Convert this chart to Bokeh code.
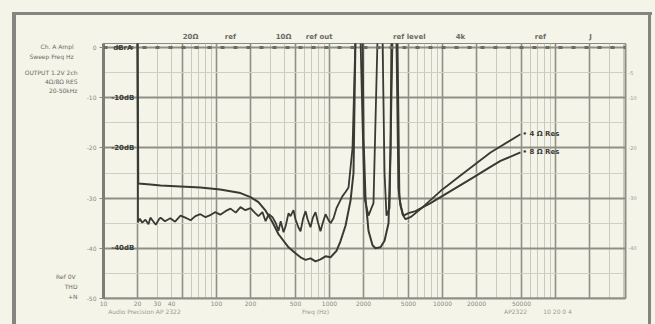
import numpy as np
from bokeh.plotting import figure
from bokeh.models import (FixedTicker, Range1d, LinearAxis, LogAxis, Label, Span,
                          CustomJSTickFormatter)
from bokeh.embed import file_html
from bokeh.resources import INLINE

# ---------------- data ----------------
freq_a = [20, 20.3, 26, 32, 48, 72, 108, 163, 200, 235, 272, 313, 354, 434, 500,
          554, 614, 679, 752, 832, 922, 1021, 1153, 1250, 1386, 1535, 1631,
          1698, 1960, 2000, 2083, 2213, 2403, 2554, 2828, 3069, 3329, 3467,
          3538, 3916, 4078, 4245, 4513, 5000, 5770, 7830, 11770, 17700, 26600,
          32600, 49000]
db_a = [2, -27.1, -27.3, -27.5, -27.7, -27.9, -28.3, -29.0, -29.8, -30.8, -32.5,
        -34.8, -37.2, -39.8, -41.0, -41.8, -42.3, -42.0, -42.6, -42.2, -41.6,
        -41.8, -40.5, -38.6, -35.5, -30.5, -25.0,
        2, 2, -18, -30, -36.5, -39.4, -40.0, -39.8, -38.5, -35.0, -20.0,
        2, 2, -28, -31.5, -33.5, -33.0, -32.6, -31.0, -28.6, -26.2, -23.8,
        -22.6, -20.9]

freq_b = [20, 20.2, 21, 22, 23.5, 25, 26, 27.5, 29, 31, 32, 35, 39, 43, 48, 53,
          59, 65, 72, 80, 88, 97, 108, 120, 133, 148, 163, 180, 200, 220, 235,
          255, 272, 290, 313, 335, 354, 370, 392, 410, 434, 452, 480, 500, 530,
          554, 585, 614, 640, 679, 710, 752, 790, 832, 870, 922, 970, 1021,
          1085, 1153, 1250, 1303, 1386, 1473, 1599,
          1698, 1880, 1960, 2040, 2213, 2450,
          2662, 2946, 3069, 3194, 3400,
          3610, 3996, 4161, 4424, 4705, 5210, 6385, 9600, 14430, 26600, 49000]
db_b = [2, -34.8, -34.1, -34.9, -34.3, -35.2, -33.9, -34.6, -35.3, -34.2, -33.9,
        -34.6, -34.0, -34.7, -33.5, -33.9, -34.4, -33.6, -33.2, -33.8, -33.4,
        -32.8, -33.3, -32.6, -32.1, -32.9, -31.8, -32.4, -32.0, -33.0, -33.6,
        -32.8, -34.6, -33.2, -33.8, -35.0, -36.5, -34.6, -36.8, -35.5, -33.0,
        -33.6, -32.4, -34.2, -35.8, -36.6, -34.0, -32.6, -34.2, -35.8, -34.0,
        -32.8, -34.8, -36.6, -35.0, -33.2, -34.2, -35.0, -34.0, -32.0, -30.4,
        -29.6, -28.8, -27.9, -20.0,
        2, 2, -15, -30, -33.5, -31.0,
        2, 2, -25, -33.5, -32.0,
        2, 2, -30, -33.2, -34.2, -33.8, -32.2, -28.6, -25.5, -20.9, -17.3]

series_names = ["4 \u03a9 Res", "8 \u03a9 Res"]

x_tick_freqs = [10, 20, 30, 40, 100, 200, 500, 1000, 2000, 5000, 10000, 20000, 50000]
x_tick_labels = ["10", "20", "30", "40", "100", "200", "500", "1000", "2000",
                 "5000", "10000", "20000", "50000"]
y_ticks = [0, -10, -20, -30, -40, -50]
y_tick_labels = ["0", "-10", "-20", "-30", "-40", "-50"]
r_ticks = [-5, -10, -20, -30, -40]
r_tick_labels = ["-5", "-10", "-20", "-30", "-40"]
db_marks = [0, -10, -20, -40]
db_mark_labels = ["dBrA", "-10dB", "-20dB", "-40dB"]

# header / footer / side notes of the sheet (anchor values on the chart's scales)
top_note_freqs = [59, 133, 392, 832, 5210, 14430, 73600, 204000]
top_note_texts = ["20\u03a9", "ref", "10\u03a9", "ref  out", "ref  level", "4k", "ref", "J"]
foot_note_freqs = [23.5, 752, 44300, 110600]
foot_note_texts = ["Audio Precision  AP 2322", "Freq (Hz)", "AP2322", "10  20  0  4"]
side_note_db = [0.2, -1.8, -5.0, -6.8, -8.6, -45.6, -47.6, -49.6]
side_note_texts = ["Ch. A   Ampl", "Sweep  Freq  Hz", "OUTPUT 1.2V 2ch",
                   "4\u03a9/8\u03a9 RES", "20-50kHz", "Ref  0V", "THD", "+N"]

# ---------------- styling / layout ----------------
BG = "#f5f4e8"
INK = "#3a3a35"
W, H = 655, 324
FL, FR, FT, FB = 103, 625, 43, 298
PX_PER_DEC = 113.0
PX_PER_DB = 5.02
x_lo = 10.0
x_hi = 10 ** (1 + (FR - FL) / PX_PER_DEC)
y_hi = (47 - FT) / PX_PER_DB
y_lo = -(FB - 47) / PX_PER_DB

p = figure(width=W, height=H, x_axis_type="log",
           x_range=Range1d(x_lo, x_hi), y_range=Range1d(y_lo, y_hi),
           output_backend="svg", toolbar_location=None,
           min_border_left=FL, min_border_right=W - FR,
           min_border_top=FT, min_border_bottom=H - FB,
           background_fill_color=BG, border_fill_color=BG, border_fill_alpha=0)
p.outline_line_color = "#8a8a82"
p.outline_line_width = 1
g = "linear-gradient(#85857f,#85857f)"
p.styles = {
    "background": (f"{g} 12px 12px / 4px 320px no-repeat, "
                   f"{g} 12px 12px / 640px 3px no-repeat, "
                   f"{g} 648px 12px / 3px 320px no-repeat, {BG}"),
}

# grids
major_v = []
minor_v = []
for dec in [10, 100, 1000, 10000, 100000]:
    for m in range(1, 10):
        f = dec * m
        if f > x_hi:
            continue
        (major_v if m in (1, 2, 5) else minor_v).append(f)
p.xgrid.ticker = FixedTicker(ticks=major_v, minor_ticks=minor_v)
p.xgrid.grid_line_color = "#8f8f87"
p.xgrid.grid_line_width = 1.6
p.xgrid.minor_grid_line_color = "#c9c9bd"
p.xgrid.minor_grid_line_width = 1

p.ygrid.ticker = FixedTicker(ticks=y_ticks, minor_ticks=[-5, -15, -25, -35, -45])
p.ygrid.grid_line_color = "#8f8f87"
p.ygrid.grid_line_width = 2
p.ygrid.minor_grid_line_color = "#cfcfc3"
p.ygrid.minor_grid_line_width = 1


def make_fmt(t, l, use_log):
    expr = "Math.abs(Math.log10(t[i]) - Math.log10(tick))" if use_log else "Math.abs(t[i] - tick)"
    return CustomJSTickFormatter(args=dict(t=t, l=l), code=f"""
let best = 0, d = 1e9;
for (let i = 0; i < t.length; i++) {{
  const e = {expr};
  if (e < d) {{ d = e; best = i; }}
}}
return l[best];
""")


def plain(ax, size, color, bold=False, standoff=3):
    ax.major_label_text_font_size = size
    ax.major_label_text_color = color
    ax.major_label_text_font = "DejaVu Sans"
    ax.major_label_text_font_style = "bold" if bold else "normal"
    ax.axis_line_color = None
    ax.major_tick_line_color = None
    ax.minor_tick_line_color = None
    ax.major_label_standoff = standoff
    ax.major_tick_out = 0
    ax.major_tick_in = 0


p.xaxis.ticker = FixedTicker(ticks=x_tick_freqs)
p.xaxis.formatter = make_fmt(x_tick_freqs, x_tick_labels, True)
plain(p.xaxis[0], "6px", "#8a8a82", standoff=2)
p.xaxis.axis_line_color = "#8f8f87"
p.xaxis.axis_line_width = 2

p.yaxis.ticker = FixedTicker(ticks=y_ticks)
p.yaxis.formatter = make_fmt(y_ticks, y_tick_labels, False)
plain(p.yaxis[0], "6px", "#8a8a82", standoff=3)
p.yaxis.axis_line_color = "#7d7d76"
p.yaxis.axis_line_width = 3
p.yaxis.major_tick_line_color = "#8a8a82"
p.yaxis.major_tick_out = 4

ra = LinearAxis(ticker=FixedTicker(ticks=r_ticks), formatter=make_fmt(r_ticks, r_tick_labels, False))
plain(ra, "5px", "#9a9a92")
ra.axis_line_color = "#8f8f87"
ra.axis_line_width = 2
p.add_layout(ra, "right")

# sheet header above the frame
top_ax = LogAxis(ticker=FixedTicker(ticks=top_note_freqs),
                 formatter=make_fmt(top_note_freqs, top_note_texts, True))
plain(top_ax, "7px", "#6a6a64", bold=True, standoff=3)
p.add_layout(top_ax, "above")

# sheet footer under the tick labels
foot_ax = LogAxis(ticker=FixedTicker(ticks=foot_note_freqs),
                  formatter=make_fmt(foot_note_freqs, foot_note_texts, True))
plain(foot_ax, "6px", "#9a9a92", standoff=-1)
p.add_layout(foot_ax, "below")

# side notes on the left
side_ax = LinearAxis(ticker=FixedTicker(ticks=side_note_db),
                     formatter=make_fmt(side_note_db, side_note_texts, False))
plain(side_ax, "6px", "#6a6a64", bold=False, standoff=6)
p.add_layout(side_ax, "left")

# dashed top reference line at 0 dB
p.add_layout(Span(location=0, dimension="width", line_color="#6b6b64",
                  line_width=3, line_dash="4 9"))

# curves
p.line(freq_a, db_a, line_color=INK, line_width=2)
p.line(freq_b, db_b, line_color=INK, line_width=1.8)

# bold dB marks inside the left column (20 Hz strip)
for d, t in zip(db_marks, db_mark_labels):
    p.add_layout(Label(x=14.8, y=d, text=t, text_font="DejaVu Sans",
                       text_font_size="7px", text_color="#3d3d38",
                       text_font_style="bold", text_align="center",
                       text_baseline="middle"))

# series labels at the ends of the curves
for name, yv in zip(series_names, [db_b[-1], db_a[-1]]):
    p.add_layout(Label(x=freq_b[-1], y=yv, text="\u2022 " + name, x_offset=2,
                       text_font="DejaVu Sans", text_font_size="7px",
                       text_color="#3d3d38", text_font_style="bold",
                       text_align="left", text_baseline="middle"))

open("out.html", "w").write(file_html(p, INLINE))
